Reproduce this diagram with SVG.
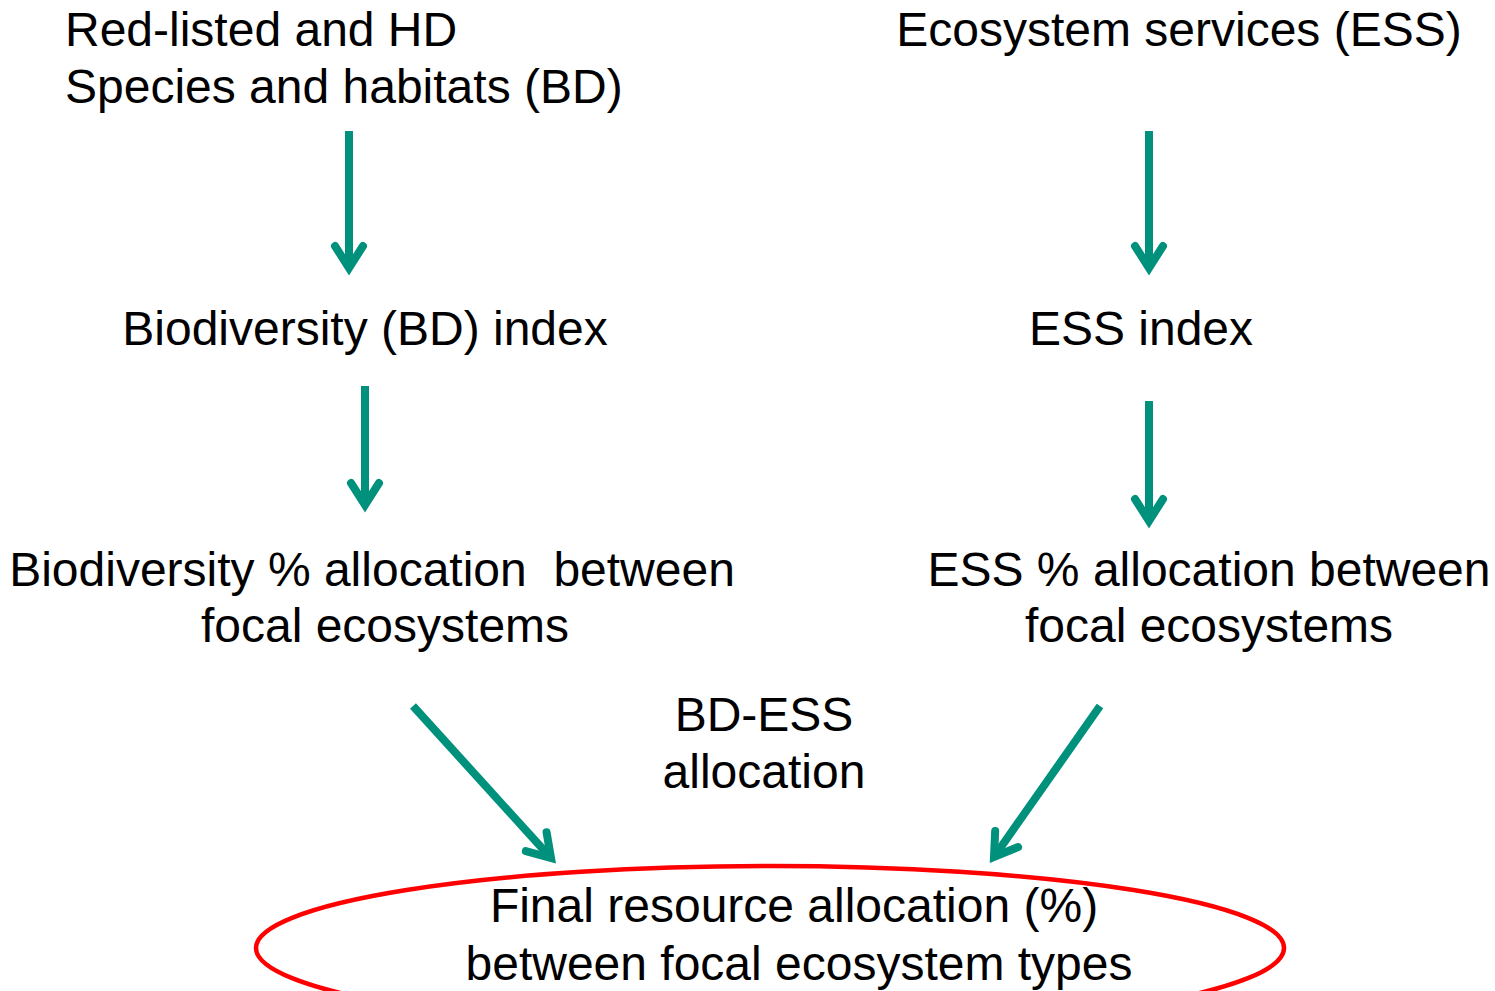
<svg xmlns="http://www.w3.org/2000/svg" width="1495" height="991" viewBox="0 0 1495 991">
  <style>
    .lbl { font-family: "Liberation Sans", Arial, sans-serif; font-size: 48px; fill: #000; white-space: pre; }
    .mid { text-anchor: middle; }
    .flow { stroke: #00917D; stroke-width: 8; fill: none; stroke-linecap: butt; }
    .goal { fill: none; stroke: #FF0000; stroke-width: 4.5; }
  </style>
  <defs>
    <marker id="vhead" markerUnits="userSpaceOnUse" markerWidth="40" markerHeight="40" viewBox="-30 -20 40 40" refX="0" refY="0" orient="auto" overflow="visible">
      <path d="M -22,-14 L 0,0 L -22,14" fill="none" stroke="#00917D" stroke-width="8" stroke-linejoin="miter" stroke-linecap="round"/>
    </marker>
  </defs>

  <!-- connectors -->
  <g id="connectors">
    <line class="flow" x1="349" y1="131" x2="349" y2="268" marker-end="url(#vhead)"/>
    <line class="flow" x1="365" y1="386" x2="365" y2="505" marker-end="url(#vhead)"/>
    <line class="flow" x1="1149" y1="131" x2="1149" y2="268" marker-end="url(#vhead)"/>
    <line class="flow" x1="1149" y1="401" x2="1149" y2="521" marker-end="url(#vhead)"/>
    <line class="flow" x1="413" y1="706" x2="551" y2="858" marker-end="url(#vhead)"/>
    <line class="flow" x1="1100" y1="706" x2="994" y2="857" marker-end="url(#vhead)"/>
  </g>

  <g id="bd-source">
    <text class="lbl" x="65" y="46">Red-listed and HD</text>
    <text class="lbl" x="65" y="103">Species and habitats (BD)</text>
  </g>

  <g id="ess-source">
    <text class="lbl mid" x="1179" y="46">Ecosystem services (ESS)</text>
  </g>

  <g id="bd-index">
    <text class="lbl mid" x="365" y="345">Biodiversity (BD) index</text>
  </g>

  <g id="ess-index">
    <text class="lbl mid" x="1141" y="345">ESS index</text>
  </g>

  <g id="bd-allocation">
    <text class="lbl mid" x="372" y="586">Biodiversity % allocation  between</text>
    <text class="lbl mid" x="385" y="642">focal ecosystems</text>
  </g>

  <g id="ess-allocation">
    <text class="lbl mid" x="1209" y="586">ESS % allocation between</text>
    <text class="lbl mid" x="1209" y="642">focal ecosystems</text>
  </g>

  <g id="bd-ess-allocation">
    <text class="lbl mid" x="764" y="731">BD-ESS</text>
    <text class="lbl mid" x="764" y="788">allocation</text>
  </g>

  <g id="final-allocation">
    <ellipse class="goal" cx="770" cy="948" rx="514" ry="82"/>
    <text class="lbl mid" x="794" y="922">Final resource allocation (%)</text>
    <text class="lbl mid" x="799" y="980">between focal ecosystem types</text>
  </g>
</svg>
